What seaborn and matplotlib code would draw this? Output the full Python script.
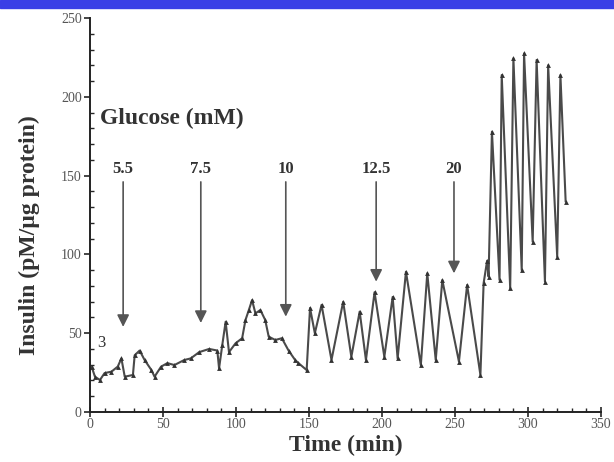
import matplotlib
matplotlib.use("Agg")
import matplotlib.pyplot as plt
from matplotlib.patches import Rectangle
from matplotlib.ticker import MultipleLocator
import seaborn as sns
import pandas as pd

# ---- data ----
time_min = [1.1, 3.4, 6.8, 10, 14.7, 19, 21.5, 23.8, 29.4, 30.6, 34, 37.4, 42, 44.2,
            48.7, 53, 57.8, 64.6, 69, 74.8, 81.6, 87.2, 88.4, 90.6, 92.9, 95.2, 99.7,
            104.2, 106.5, 108.8, 111, 113.3, 116.7, 120, 122.4, 126.9, 131.4, 136,
            140.5, 142.8, 148.4, 150.7, 154, 158.6, 165.4, 173.4, 179, 184.7, 189,
            194.9, 201.6, 207.3, 210.7, 216.4, 226.6, 231, 236.8, 241.3, 252.7, 258.3,
            267.4, 269.6, 272, 273, 275.3, 280.5, 282, 287.8, 290, 295.7, 297.3,
            303.2, 305.9, 311.6, 313.8, 320, 322.2, 325.8]
insulin = [28.8, 22.4, 20.3, 24.7, 25.6, 28.8, 34, 22.4, 23.5, 36, 39, 33, 26.7, 22.4,
           28.8, 31, 29.8, 33, 34, 38, 40, 39, 27.7, 42.5, 57.3, 38, 43.6,
           46.8, 58.4, 64.7, 71, 62.6, 64.7, 58.4, 47.8, 45.7, 46.8, 39,
           33, 31, 26.6, 66, 50, 68, 33, 70, 35, 63.7, 33,
           76, 35, 73, 34, 89, 29.8, 88, 33, 83.7, 32, 80.6,
           23.5, 81.7, 96, 85.9, 177.9, 83.8, 213.8, 78.5, 224.4, 90, 227.5,
           108, 223.4, 82.7, 220, 98.5, 213.8, 133.4]

glucose_labels = ["5.5", "7.5", "10", "12.5", "20"]
glucose_times = [22.7, 75.9, 134.1, 196, 249.3]
arrow_tips = [54, 56.5, 60.5, 82.7, 88]

df = pd.DataFrame({"Time": time_min, "Insulin": insulin})

sns.set_theme(style="ticks")
plt.rcParams["font.family"] = ["Liberation Serif", "DejaVu Serif"]

fig = plt.figure(figsize=(6.14, 4.62), dpi=100)
ax = fig.add_axes([90 / 614, 50 / 462, 511 / 614, 394 / 462])

sns.lineplot(data=df, x="Time", y="Insulin", ax=ax, sort=False, estimator=None,
             color="#4a4a4a", linewidth=1.5, marker="^", markersize=3.5,
             markeredgewidth=0, markerfacecolor="#333333")

ax.set_xlim(0, 350)
ax.set_ylim(0, 250)
ax.xaxis.set_major_locator(MultipleLocator(50))
ax.xaxis.set_minor_locator(MultipleLocator(10))
ax.yaxis.set_major_locator(MultipleLocator(50))
ax.yaxis.set_minor_locator(MultipleLocator(10))
ax.tick_params(axis="x", which="major", direction="inout", length=7, width=1.2,
               labelsize=10, labelcolor="#555555", pad=1)
ax.tick_params(axis="x", which="minor", direction="in", length=3, width=1)
ax.tick_params(axis="y", which="major", direction="out", length=4, width=1.2,
               labelsize=10, labelcolor="#555555", pad=2)
ax.tick_params(axis="y", which="minor", direction="in", length=3, width=1)
for s in ["top", "right"]:
    ax.spines[s].set_visible(False)
for s in ["left", "bottom"]:
    ax.spines[s].set_linewidth(1.4)
    ax.spines[s].set_color("#222222")

ax.set_xlabel("Time (min)", fontsize=17, fontweight="bold", color="#333333")
ax.set_ylabel("Insulin (pM/µg protein)", fontsize=17, fontweight="bold", color="#333333")
ax.xaxis.set_label_coords(0.5, -0.058)
ax.yaxis.set_label_coords(-0.097, 0.45)

ax.text(7, 186, "Glucose (mM)", fontsize=17, fontweight="bold", color="#333333",
        va="center", ha="left")
ax.text(8, 44, "3", fontsize=12, color="#333333", ha="center", va="center")

for lab, t, tip in zip(glucose_labels, glucose_times, arrow_tips):
    ax.text(t, 154, lab, fontsize=12, fontweight="bold", color="#333333",
            ha="center", va="center")
    ax.annotate("", xy=(t, tip), xytext=(t, 146),
                arrowprops=dict(arrowstyle="-|>", color="#555555", lw=1.2,
                                mutation_scale=18, shrinkA=0, shrinkB=0))

fig.add_artist(Rectangle((0, 1 - 8 / 462), 1, 8 / 462, transform=fig.transFigure,
                         color="#3a3fe6", zorder=10))

fig.savefig("out.png", dpi=100, facecolor="white")
